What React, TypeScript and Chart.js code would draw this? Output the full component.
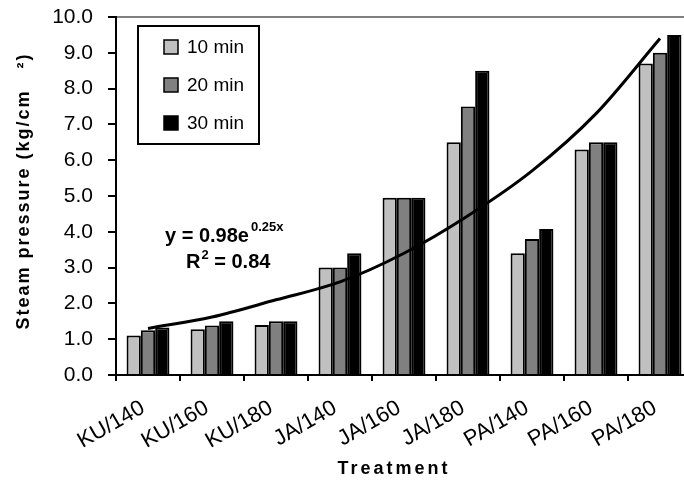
import React, { useEffect, useRef } from 'react';
import { Chart, registerables } from 'chart.js';

Chart.register(...registerables);

const categories = ['KU/140', 'KU/160', 'KU/180', 'JA/140', 'JA/160', 'JA/180', 'PA/140', 'PA/160', 'PA/180'];
const seriesNames = ['10 min', '20 min', '30 min'];
const min10 = [1.1, 1.28, 1.4, 3.0, 4.95, 6.5, 3.4, 6.3, 8.7];
const min20 = [1.25, 1.38, 1.5, 3.0, 4.95, 7.5, 3.8, 6.5, 9.0];
const min30 = [1.33, 1.5, 1.5, 3.4, 4.95, 8.5, 4.08, 6.5, 9.5];
const trendValues = [1.3, 1.62, 2.1, 2.6, 3.4, 4.45, 5.7, 7.3, 9.4];
const yMin = 0;
const yMax = 10;
const yStep = 1;
const equationText = 'y = 0.98e';
const equationExp = '0.25x';
const r2Prefix = 'R';
const r2Sup = '2';
const r2Rest = ' = 0.84';
const yTitle = 'Steam pressure (kg/cm   \u00B2)';
const xTitle = 'Treatment';

const seriesColors = ['#C0C0C0', '#808080', '#000000'];
const FONT = '"Liberation Sans", Arial, Helvetica, sans-serif';

const overlayPlugin = {
  id: 'overlay',
  afterDraw(chart: any) {
    const ctx: CanvasRenderingContext2D = chart.ctx;
    const a = chart.chartArea;
    ctx.save();
    // top frame line
    ctx.strokeStyle = '#808080';
    ctx.lineWidth = 2;
    ctx.beginPath();
    ctx.moveTo(a.left + 1, a.top);
    ctx.lineTo(a.right, a.top);
    ctx.stroke();

    // legend
    const lx = a.left + 22;
    const ly = a.top + 9;
    ctx.fillStyle = '#fff';
    ctx.fillRect(lx, ly, 121, 118);
    ctx.strokeStyle = '#000';
    ctx.lineWidth = 2;
    ctx.strokeRect(lx, ly, 121, 118);
    ctx.font = `19px ${FONT}`;
    ctx.textBaseline = 'middle';
    ctx.textAlign = 'left';
    seriesNames.forEach((name, i) => {
      const cy = ly + 21 + i * 38;
      ctx.fillStyle = seriesColors[i];
      ctx.fillRect(lx + 26, cy - 7, 14, 14);
      ctx.strokeStyle = '#000';
      ctx.lineWidth = 1.5;
      ctx.strokeRect(lx + 26, cy - 7, 14, 14);
      ctx.fillStyle = '#000';
      ctx.fillText(name, lx + 49, cy + 1);
    });

    // equation
    ctx.fillStyle = '#000';
    ctx.textBaseline = 'alphabetic';
    ctx.font = `bold 20px ${FONT}`;
    const ex = a.left + 49;
    const ey = 242;
    ctx.fillText(equationText, ex, ey);
    const w1 = ctx.measureText(equationText).width;
    ctx.font = `bold 13px ${FONT}`;
    ctx.fillText(equationExp, ex + w1 + 2, ey - 11);
    ctx.font = `bold 20px ${FONT}`;
    const rx = a.left + 70;
    const ry = 268;
    ctx.fillText(r2Prefix, rx, ry);
    const wr = ctx.measureText(r2Prefix).width;
    ctx.font = `bold 13px ${FONT}`;
    ctx.fillText(r2Sup, rx + wr + 1, ry - 9);
    const ws = ctx.measureText(r2Sup).width;
    ctx.font = `bold 20px ${FONT}`;
    ctx.fillText(r2Rest, rx + wr + ws + 1, ry);

    // x title
    ctx.font = `bold 18px ${FONT}`;
    (ctx as any).letterSpacing = '3px';
    ctx.textAlign = 'center';
    ctx.fillText(xTitle, 394, 474);

    // y title
    ctx.save();
    ctx.translate(24, 191);
    ctx.rotate(-Math.PI / 2);
    (ctx as any).letterSpacing = '2px';
    ctx.textBaseline = 'middle';
    ctx.textAlign = 'center';
    ctx.font = `bold 18px ${FONT}`;
    ctx.fillText(yTitle, 0, 0);
    ctx.restore();

    ctx.restore();
  },
};

export default function App() {
  const ref = useRef<HTMLCanvasElement | null>(null);

  useEffect(() => {
    if (!ref.current) return;
    const chart = new Chart(ref.current, {
      type: 'bar',
      data: {
        labels: categories,
        datasets: [
          {
            type: 'line',
            label: 'trend',
            data: trendValues,
            borderColor: '#000',
            borderWidth: 3,
            pointRadius: 0,
            tension: 0.4,
            cubicInterpolationMode: 'monotone',
            fill: false,
            order: 0,
          } as any,
          ...[min10, min20, min30].map((d, i) => ({
            type: 'bar',
            label: seriesNames[i],
            data: d,
            backgroundColor: seriesColors[i],
            borderColor: '#000',
            borderWidth: 2,
            barPercentage: 1,
            categoryPercentage: 0.67,
            order: 1,
          })),
        ],
      },
      options: {
        responsive: false,
        animation: false,
        events: [],
        layout: { padding: { top: 17, right: 0, bottom: 0, left: 0 } },
        plugins: {
          legend: { display: false },
          tooltip: { enabled: false },
          title: { display: false },
        },
        scales: {
          x: {
            type: 'category',
            offset: true,
            grid: {
              offset: true,
              drawOnChartArea: false,
              drawTicks: true,
              tickLength: 6,
              color: '#000',
              lineWidth: 2,
            },
            border: { color: '#000', width: 2 },
            ticks: {
              color: '#000',
              font: { family: FONT, size: 22 },
              minRotation: 30,
              maxRotation: 30,
              autoSkip: false,
              padding: 14,
              labelOffset: -5,
            },
            afterFit: (s: any) => {
              s.height = 110;
              s.paddingLeft = 0;
              s.paddingRight = 0;
              s.paddingTop = 0;
              s.paddingBottom = 0;
            },
          },
          y: {
            min: yMin,
            max: yMax,
            grid: {
              drawOnChartArea: false,
              drawTicks: true,
              tickLength: 8,
              color: '#000',
              lineWidth: 2,
            },
            border: { color: '#000', width: 2 },
            ticks: {
              stepSize: yStep,
              color: '#000',
              font: { family: FONT, size: 21 },
              padding: 15,
              callback: (v: any) => Number(v).toFixed(1),
            },
            afterFit: (s: any) => {
              s.width = 116;
              s.paddingTop = 0;
              s.paddingBottom = 0;
            },
          },
        },
      } as any,
      plugins: [overlayPlugin],
    });
    return () => chart.destroy();
  }, []);

  return (
    <div style={{ position: 'fixed', left: 0, top: 0, width: 684, height: 485, overflow: 'hidden', background: '#fff' }}>
      <canvas ref={ref} width={692} height={485} style={{ display: 'block', width: 692, height: 485 }} />
    </div>
  );
}
